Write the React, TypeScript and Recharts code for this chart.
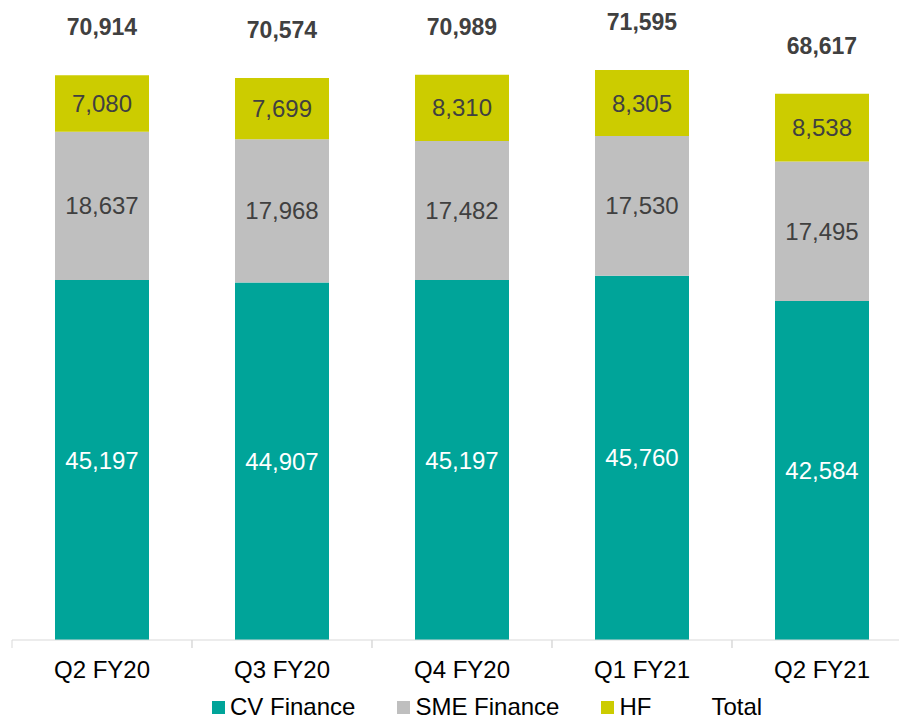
import React from 'react';
import { ComposedChart, Bar, Line, XAxis, YAxis, LabelList, Legend } from 'recharts';

const categories = ['Q2 FY20', 'Q3 FY20', 'Q4 FY20', 'Q1 FY21', 'Q2 FY21'];
const cvFinance = [45197, 44907, 45197, 45760, 42584];
const smeFinance = [18637, 17968, 17482, 17530, 17495];
const hf = [7080, 7699, 8310, 8305, 8538];
const total = [70914, 70574, 70989, 71595, 68617];

const data = categories.map((c, i) => ({
  name: c,
  cv: cvFinance[i],
  sme: smeFinance[i],
  hf: hf[i],
  total: total[i],
}));

const FONT = '"Liberation Sans", Arial, sans-serif';
const TEAL = '#00A499';
const GREY = '#BFBFBF';
const YELLOW = '#CCCC00';
const DARK = '#404040';
const FS = 24;

const fmt = (v: any) => Number(v).toLocaleString('en-US');

const CustomTick = (props: any) => {
  const { x, y, payload } = props;
  return (
    <g>
      <line x1={x - 90} y1={y} x2={x - 90} y2={y + 8} stroke="#D9D9D9" strokeWidth={1} />
      <line x1={x + 90} y1={y} x2={x + 90} y2={y + 8} stroke="#D9D9D9" strokeWidth={1} />
      <text
        x={x}
        y={y + 29}
        textAnchor="middle"
        dominantBaseline="central"
        fill="#000"
        fontSize={FS}
        fontFamily={FONT}
      >
        {payload.value}
      </text>
    </g>
  );
};

const TotalLabel = (props: any) => {
  const { x, y, value } = props;
  return (
    <text
      x={x}
      y={y - 48}
      textAnchor="middle"
      dominantBaseline="central"
      fill={DARK}
      fontSize={23}
      fontWeight="bold"
      fontFamily={FONT}
    >
      {fmt(value)}
    </text>
  );
};

const legendItems = [
  { label: 'CV Finance', color: TEAL },
  { label: 'SME Finance', color: GREY },
  { label: 'HF', color: YELLOW },
  { label: 'Total', color: 'transparent' },
];

const CustomLegend = () => (
  <div style={{ display: 'flex', alignItems: 'center', gap: 42, fontFamily: FONT, fontSize: FS, lineHeight: 'normal', color: '#000', whiteSpace: 'nowrap' }}>
    {legendItems.map((it) => (
      <div key={it.label} style={{ display: 'flex', alignItems: 'center' }}>
        <span style={{ display: 'inline-block', width: 13, height: 13, background: it.color, marginRight: 5 }} />
        <span>{it.label}</span>
      </div>
    ))}
  </div>
);

export default function App() {
  return (
    <div style={{ position: 'absolute', left: 0, top: 0, width: 899, height: 721, overflow: 'hidden', background: '#fff' }}>
      <ComposedChart
        width={920}
        height={721}
        data={data}
        margin={{ top: 3, right: 8, left: 12, bottom: 0 }}
        barCategoryGap={43}
      >
        <XAxis
          dataKey="name"
          height={81}
          axisLine={{ stroke: '#D9D9D9', strokeWidth: 1 }}
          tickLine={false}
          tickSize={0}
          tickMargin={0}
          tick={<CustomTick />}
          interval={0}
        />
        <YAxis hide domain={[0, 80000]} />
        <Bar dataKey="cv" stackId="a" fill={TEAL} barSize={94} isAnimationActive={false}>
          <LabelList dataKey="cv" position="center" fill="#fff" fontSize={FS} fontFamily={FONT} formatter={fmt} />
        </Bar>
        <Bar dataKey="sme" stackId="a" fill={GREY} barSize={94} isAnimationActive={false}>
          <LabelList dataKey="sme" position="center" fill={DARK} fontSize={FS} fontFamily={FONT} formatter={fmt} />
        </Bar>
        <Bar dataKey="hf" stackId="a" fill={YELLOW} barSize={94} isAnimationActive={false}>
          <LabelList dataKey="hf" position="center" fill={DARK} fontSize={FS} fontFamily={FONT} formatter={fmt} />
        </Bar>
        <Line
          dataKey="total"
          stroke="none"
          dot={false}
          activeDot={false}
          legendType="none"
          isAnimationActive={false}
        >
          <LabelList dataKey="total" content={<TotalLabel />} />
        </Line>
        <Legend
          layout="horizontal"
          verticalAlign="middle"
          align="center"
          content={<CustomLegend />}
          wrapperStyle={{ position: 'absolute', left: 212, top: 693, width: 'auto', height: 'auto' }}
        />
      </ComposedChart>
    </div>
  );
}
